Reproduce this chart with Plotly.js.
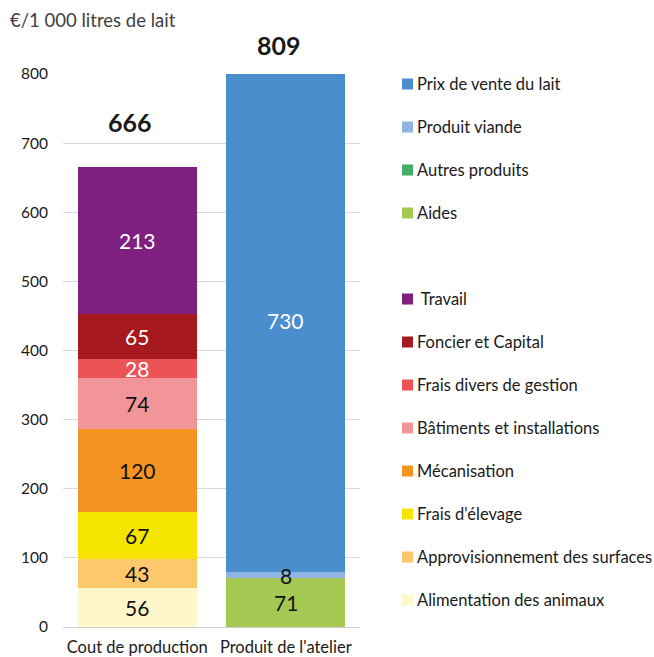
<!DOCTYPE html>
<html><head><meta charset="utf-8">
<script src="https://cdn.plot.ly/plotly-3.0.1.min.js"></script>
<style>body{margin:0;background:#fff}#chart{width:654px;height:657px}</style>
</head><body><div id="chart"></div>
<script>
const categories = ["Cout de production", "Produit de l'atelier"];

// cost series (bottom to top) on first bar
const costNames = ["Alimentation des animaux","Approvisionnement des surfaces","Frais d'élevage","Mécanisation","Bâtiments et installations","Frais divers de gestion","Foncier et Capital","Travail"];
const costValues = [56, 43, 67, 120, 74, 28, 65, 213];
const costColors = ["#FEF7CC","#FDC86B","#F5E500","#F39322","#F29599","#EB5356","#A6191E","#7F1F7F"];
const costLabelColors = ["#111","#111","#111","#111","#111","#fff","#fff","#fff"];

// product series (bottom to top) on second bar
const prodNames = ["Aides","Autres produits","Produit viande","Prix de vente du lait"];
const prodValues = [71, 0, 8, 730];
const prodColors = ["#A5C852","#44AD66","#8FB4E3","#4A8ECD"];
const prodLabelColors = ["#111","#111","#111","#fff"];

const totals = [666, 809];

const FONT = "Lato, 'Open Sans', sans-serif";
const traces = [];
const annotations = [];

function addStack(names, values, colors, labelColors, cat) {
  let base = 0;
  names.forEach((n, i) => {
    traces.push({type:'bar', name:n, x:[cat], y:[values[i]], marker:{color:colors[i]}, hoverinfo:'name+y', showlegend:false});
    if (values[i] > 0) {
      annotations.push({x:cat, y:base + values[i]/2, xref:'x', yref:'y', text:String(values[i]), showarrow:false,
        font:{family:FONT, size:21, color:labelColors[i]}});
    }
    base += values[i];
  });
}
addStack(costNames, costValues, costColors, costLabelColors, categories[0]);
addStack(prodNames, prodValues, prodColors, prodLabelColors, categories[1]);

// totals
const totalShift = [45, 23];
totals.forEach((t, i) => {
  annotations.push({x:categories[i], y:Math.min(t, 800), xref:'x', yref:'y', xshift:-7, yshift: totalShift[i] + (t>800 ? (t-800)*0.691 : 0),
    text:'<b>'+t+'</b>', showarrow:false, font:{family:FONT, size:25, color:'#1a1a1a'}});
});

// custom legend
const legendItems = [
  [prodNames[3], prodColors[3]], [prodNames[2], prodColors[2]], [prodNames[1], prodColors[1]], [prodNames[0], prodColors[0]],
  null,
  [" "+costNames[7], costColors[7]], [costNames[6], costColors[6]], [costNames[5], costColors[5]], [costNames[4], costColors[4]],
  [costNames[3], costColors[3]], [costNames[2], costColors[2]], [costNames[1], costColors[1]], [costNames[0], costColors[0]]
];
const shapes = [];
const W = 654, H = 657;
legendItems.forEach((it, k) => {
  if (!it) return;
  const ypx = 84 + 43*k;
  shapes.push({type:'rect', xref:'paper', yref:'paper', layer:'above',
    x0:(402-63)/297, x1:(413-63)/297, y0:(627-(ypx+5.5))/553, y1:(627-(ypx-5.5))/553,
    fillcolor:it[1], line:{width:0}});
  annotations.push({xref:'paper', yref:'paper', x:(414.5-63)/297, y:(627-ypx)/553, xanchor:'left', yanchor:'middle',
    text:it[0], showarrow:false, font:{family:FONT, size:16.5, color:'#1a1a1a'}});
});

// axis title
annotations.push({xref:'paper', yref:'paper', x:(8-63)/297, y:(627-20)/553, xanchor:'left', yanchor:'middle',
  text:'€/1 000 litres de lait', showarrow:false, font:{family:FONT, size:18.5, color:'#404040'}});

const layout = {
  width:W, height:H,
  margin:{l:63, r:294, t:74, b:30},
  barmode:'stack', bargap:0.2,
  paper_bgcolor:'#fff', plot_bgcolor:'#fff',
  showlegend:false,
  font:{family:FONT, size:15, color:'#1a1a1a'},
  xaxis:{type:'category', showline:false, showgrid:false, ticks:'', ticklabelstandoff:8, tickfont:{size:16.5, color:'#1a1a1a'}, fixedrange:true},
  yaxis:{range:[0,800], dtick:100, showgrid:true, gridcolor:'#d9d9d9', gridwidth:1, zeroline:true, zerolinecolor:'#d0d0d0', zerolinewidth:1,
    showline:false, ticks:'', ticklabelstandoff:14, tickfont:{size:15.5, color:'#1a1a1a'}, fixedrange:true},
  annotations: annotations,
  shapes: shapes
};
Plotly.newPlot('chart', traces, layout, {displayModeBar:false, staticPlot:true});
</script></body></html>
